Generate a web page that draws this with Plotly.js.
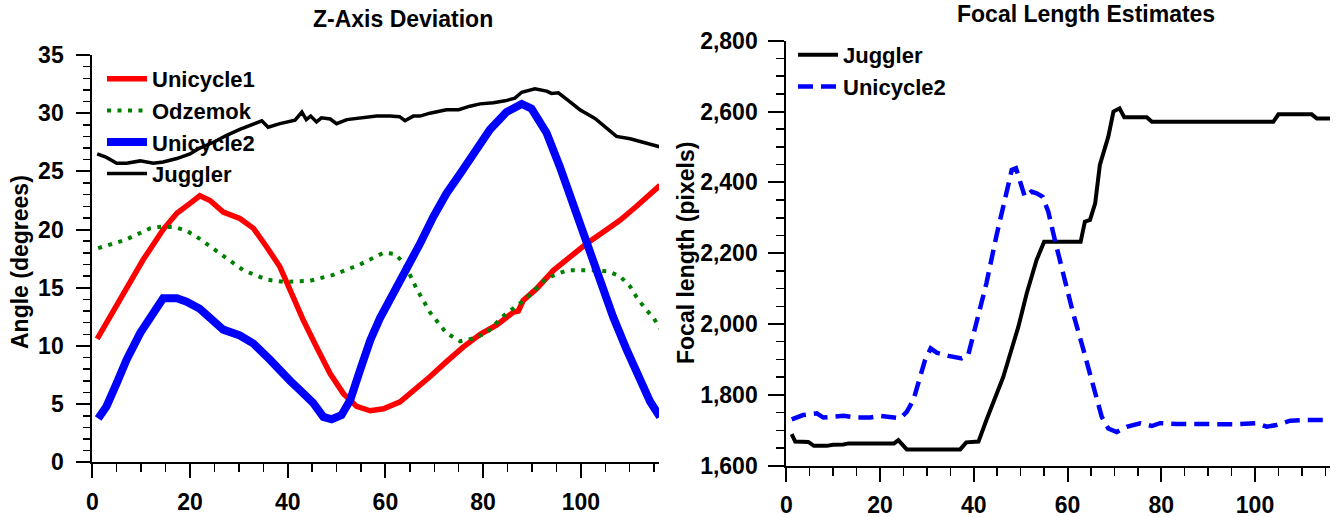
<!DOCTYPE html>
<html>
<head>
<meta charset="utf-8">
<script src="https://cdn.plot.ly/plotly-3.0.1.min.js"></script>
<style>html,body{margin:0;padding:0;background:#fff;}#chart{width:1338px;height:517px;}</style>
</head>
<body>
<div id="chart"></div>
<script>
// ---------- Z-Axis Deviation (left) ----------
var uni1X = [1, 3.6, 7, 10.4, 14.5, 17.3, 20, 22, 24.1, 26.8, 30.2, 33, 35.7, 38.4, 40.5, 43.2, 45.9, 48.7, 51.4, 54.1, 56.9, 59.6, 63, 65.7, 69.1, 72.5, 75.9, 79.4, 82.8, 86.2, 87.2, 88.2, 90.9, 94.4, 97.8, 101.2, 104.6, 108, 111.4, 114.2, 116.2];
var uni1Y = [10.6, 12.5, 15.1, 17.4, 20.0, 21.4, 22.25, 22.9, 22.5, 21.5, 20.95, 20.1, 18.5, 16.8, 14.8, 12.2, 9.9, 7.6, 5.9, 4.8, 4.43, 4.6, 5.2, 6.1, 7.35, 8.65, 9.9, 11.0, 11.8, 12.9, 13.0, 13.9, 14.9, 16.5, 17.7, 18.8, 19.8, 20.8, 22.0, 22.96, 23.8];

var odzX = [1.2, 6.7, 11.8, 14.2, 16.9, 19.3, 22, 26.1, 30.9, 35.7, 39.1, 44.6, 49.3, 54.8, 59.6, 62, 64, 66.4, 69.1, 72.5, 75.3, 78, 80.7, 83.9, 88.6, 92.7, 95.1, 97.4, 100.2, 102.9, 105.6, 108, 110.1, 111.4, 113.2, 114.9, 116.2];
var odzY = [18.4, 19.1, 20.1, 20.25, 20.2, 19.9, 19.2, 18.0, 16.5, 15.7, 15.5, 15.6, 16.1, 17.0, 18.0, 17.9, 17.0, 14.9, 12.9, 11.1, 10.4, 10.65, 11.1, 12.5, 14.0, 15.7, 16.2, 16.5, 16.5, 16.5, 16.4, 16.0, 15.1, 14.2, 13.2, 12.4, 11.5];

var uni2X = [1.2, 2.9, 5.0, 7.0, 9.8, 12.5, 14.5, 17.3, 19.3, 22, 24.8, 26.8, 30.2, 33, 36.4, 38.4, 40.5, 42.5, 45.2, 47.3, 49, 51, 52.8, 54.8, 56.9, 58.9, 61.6, 64.4, 67.1, 69.8, 72.5, 75.3, 78, 81.4, 84.8, 87.9, 89.9, 93, 95.7, 98.5, 101.2, 103.9, 106.6, 109.4, 112.1, 114.2, 116.2];
var uni2Y = [3.77, 4.8, 6.8, 8.8, 11.1, 12.8, 14.1, 14.1, 13.8, 13.2, 12.1, 11.4, 10.9, 10.2, 8.8, 7.8, 7.0, 6.2, 5.1, 3.9, 3.7, 4.05, 5.35, 7.9, 10.5, 12.4, 14.4, 16.5, 18.8, 21.1, 23.1, 24.8, 26.5, 28.6, 30.1, 30.8, 30.4, 28.3, 25.4, 22.0, 18.8, 15.7, 12.5, 9.65, 7.1, 5.2, 3.9];

var jugX = [1, 2.9, 5, 7, 9.8, 12.5, 14.5, 17.3, 20, 22, 24.8, 27.5, 30.2, 33, 34.7, 36, 38.4, 41.5, 42.9, 43.8, 44.7, 45.9, 46.9, 48.7, 50, 52.1, 55.5, 58.2, 60.9, 62.9, 64, 65.7, 67.1, 69.1, 72.5, 75, 77.3, 79.4, 82.1, 84.5, 86.5, 87.9, 90.6, 93, 94, 95.4, 97.4, 99.8, 102.9, 104.9, 107.3, 110.1, 112.8, 114.9, 116.2];
var jugY = [26.5, 26.2, 25.7, 25.7, 25.9, 25.7, 25.8, 26.1, 26.5, 27.0, 27.5, 28.1, 28.6, 29.1, 29.35, 28.8, 29.1, 29.4, 30.1, 29.45, 29.75, 29.25, 29.6, 29.5, 29.1, 29.45, 29.6, 29.75, 29.75, 29.7, 29.35, 29.75, 29.75, 30.0, 30.3, 30.3, 30.6, 30.8, 30.9, 31.06, 31.3, 31.8, 32.1, 31.9, 31.7, 31.75, 31.1, 30.3, 29.55, 28.8, 28.0, 27.8, 27.5, 27.2, 27.1];

// ---------- Focal Length Estimates (right) ----------
var focJugX = [1.15, 1.9, 4.7, 5.9, 8.6, 10, 12.2, 13.3, 23.0, 23.9, 25.7, 37.1, 38.4, 41.0, 42.7, 46.3, 49.5, 51.3, 53.4, 55.0, 62.8, 63.7, 64.8, 65.9, 66.9, 68.7, 69.8, 71.1, 72.1, 76.9, 78.0, 103.9, 105.0, 112.1, 113.2, 116];
var focJugY = [1689, 1668, 1667, 1656, 1656, 1659, 1660, 1663, 1663, 1672, 1646, 1646, 1666, 1668, 1729, 1851, 1992, 2087, 2181, 2232, 2232, 2289, 2294, 2341, 2449, 2529, 2600, 2609, 2584, 2584, 2571, 2571, 2592, 2592, 2580, 2580];

var focUni2X = [1.15, 3.6, 6.5, 7.9, 12.2, 15.0, 17.9, 20.0, 24.3, 25.7, 27.1, 28.5, 29.6, 30.8, 32.1, 34.6, 37.4, 38.8, 40.6, 42.7, 44.8, 46.7, 48.1, 49.0, 50.0, 50.9, 52.3, 53.4, 54.7, 55.9, 57.3, 59.1, 61.2, 63.4, 65.5, 67.3, 68.7, 70.5, 72.6, 75.5, 78.0, 79.7, 83.3, 87.6, 91.8, 96.1, 100.4, 102.5, 104.6, 107.5, 110.3, 116];
var focUni2Y = [1731, 1743, 1748, 1736, 1741, 1736, 1736, 1741, 1734, 1752, 1785, 1851, 1898, 1931, 1919, 1910, 1903, 1912, 2002, 2115, 2247, 2359, 2435, 2440, 2392, 2359, 2374, 2369, 2359, 2317, 2237, 2138, 2030, 1927, 1823, 1738, 1705, 1695, 1710, 1720, 1712, 1720, 1718, 1717, 1715, 1717, 1720, 1710, 1715, 1727, 1729, 1729];

var leftTitle = "Z-Axis Deviation";
var rightTitle = "Focal Length Estimates";
var leftYTitle = "Angle (degrees)";
var rightYTitle = "Focal length (pixels)";

var W = 1338, H = 517;
function px(x) { return x / W; }
function py(y) { return 1 - y / H; }

var FONT = "Liberation Sans, Arial, Helvetica, sans-serif";
var tickFont = {family: FONT, size: 23, color: "#000", weight: "bold"};

var traces = [
  {x: uni1X, y: uni1Y, name: "Unicycle1", type: "scatter", mode: "lines", xaxis: "x", yaxis: "y", legend: "legend",
   line: {color: "#ff0000", width: 5.5}},
  {x: odzX, y: odzY, name: "Odzemok", type: "scatter", mode: "lines", xaxis: "x", yaxis: "y", legend: "legend",
   line: {color: "#008000", width: 4, dash: "4px,6.5px"}},
  {x: uni2X, y: uni2Y, name: "Unicycle2", type: "scatter", mode: "lines", xaxis: "x", yaxis: "y", legend: "legend",
   line: {color: "#0000ff", width: 8}},
  {x: jugX, y: jugY, name: "Juggler", type: "scatter", mode: "lines", xaxis: "x", yaxis: "y", legend: "legend",
   line: {color: "#000000", width: 3.5}},
  {x: focJugX, y: focJugY, name: "Juggler", type: "scatter", mode: "lines", xaxis: "x2", yaxis: "y2", legend: "legend2",
   line: {color: "#000000", width: 4}},
  {x: focUni2X, y: focUni2Y, name: "Unicycle2", type: "scatter", mode: "lines", xaxis: "x2", yaxis: "y2", legend: "legend2",
   line: {color: "#0000ff", width: 4.5, dash: "15px,8px"}}
];

function xAxis(domain, anchor) {
  return {
    domain: domain, anchor: anchor, range: [0, 116],
    showline: true, linecolor: "#000", linewidth: 2,
    showgrid: false, zeroline: false,
    ticks: "outside", ticklen: 14, tickwidth: 2, tickcolor: "#000",
    dtick: 20, tick0: 0, tickfont: tickFont, ticklabelstandoff: 4,
    minor: {dtick: 5, ticks: "outside", ticklen: 8, tickwidth: 1.5, tickcolor: "#000", showgrid: false}
  };
}

var layout = {
  width: W, height: H,
  margin: {l: 0, r: 0, t: 0, b: 0},
  paper_bgcolor: "#fff", plot_bgcolor: "rgba(0,0,0,0)",
  font: {family: FONT, color: "#000"},
  xaxis: xAxis([px(92.3), px(659)], "y"),
  yaxis: {
    domain: [py(462.3), py(55)], anchor: "x", range: [0, 35],
    showline: true, linecolor: "#000", linewidth: 2,
    showgrid: false, zeroline: false,
    ticks: "outside", ticklen: 14, tickwidth: 2, tickcolor: "#000",
    dtick: 5, tick0: 0, tickfont: tickFont, ticklabelstandoff: 8,
    minor: {dtick: 1, ticks: "outside", ticklen: 7, tickwidth: 1.5, tickcolor: "#000", showgrid: false}
  },
  xaxis2: xAxis([px(786.3), px(1330)], "y2"),
  yaxis2: {
    domain: [py(465.7), py(40.7)], anchor: "x2", range: [1600, 2800],
    showline: true, linecolor: "#000", linewidth: 2,
    showgrid: false, zeroline: false,
    ticks: "outside", ticklen: 16, tickwidth: 2, tickcolor: "#000",
    dtick: 200, tick0: 1600, tickformat: ",d", tickfont: tickFont, ticklabelstandoff: 6,
    minor: {dtick: 50, ticks: "outside", ticklen: 8, tickwidth: 1.5, tickcolor: "#000", showgrid: false}
  },
  showlegend: true,
  legend: {
    x: px(102), y: py(58), xanchor: "left", yanchor: "top", xref: "paper", yref: "paper",
    bgcolor: "rgba(0,0,0,0)", borderwidth: 0,
    font: {family: FONT, size: 22, color: "#000", weight: "bold"},
    itemwidth: 40, tracegroupgap: 0
  },
  legend2: {
    x: px(793), y: py(34), xanchor: "left", yanchor: "top", xref: "paper", yref: "paper",
    bgcolor: "rgba(0,0,0,0)", borderwidth: 0,
    font: {family: FONT, size: 22, color: "#000", weight: "bold"},
    itemwidth: 40, tracegroupgap: 0
  },
  annotations: [
    {text: leftTitle, x: px(403), y: py(19), xref: "paper", yref: "paper", xanchor: "center", yanchor: "middle",
     showarrow: false, font: {family: FONT, size: 23, color: "#000", weight: "bold"}},
    {text: rightTitle, x: px(1086), y: 1, xref: "paper", yref: "paper", xanchor: "center", yanchor: "top",
     borderpad: 0, showarrow: false, font: {family: FONT, size: 23, color: "#000", weight: "bold"}},
    {text: leftYTitle, x: px(20), y: py(262), xref: "paper", yref: "paper", xanchor: "center", yanchor: "middle",
     textangle: -90, showarrow: false, font: {family: FONT, size: 23, color: "#000", weight: "bold"}},
    {text: rightYTitle, x: px(686), y: py(253), xref: "paper", yref: "paper", xanchor: "center", yanchor: "middle",
     textangle: -90, showarrow: false, font: {family: FONT, size: 23, color: "#000", weight: "bold"}}
  ]
};

Plotly.newPlot("chart", traces, layout, {staticPlot: true, displayModeBar: false});
</script>
</body>
</html>
